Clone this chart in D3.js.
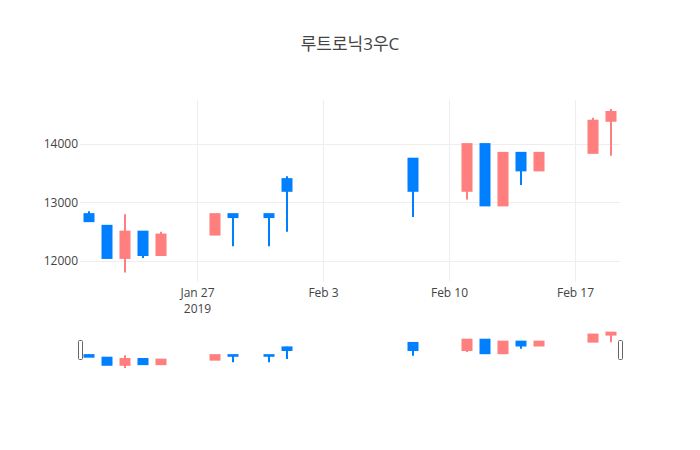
<!DOCTYPE html>
<html>
<head>
<meta charset="utf-8">
<script src="https://cdn.jsdelivr.net/npm/d3@7"></script>
<style>
  body { margin: 0; background: #fff; }
  text { font-family: "Open Sans", "Noto Sans CJK KR", sans-serif; fill: #444; }
</style>
</head>
<body>
<svg width="700" height="450"></svg>
<script>
const dates = ['2019-01-21', '2019-01-22', '2019-01-23', '2019-01-24', '2019-01-25',
  '2019-01-28', '2019-01-29', '2019-01-31', '2019-02-01', '2019-02-08',
  '2019-02-11', '2019-02-12', '2019-02-13', '2019-02-14', '2019-02-15',
  '2019-02-18', '2019-02-19'];
const opens  = [12800, 12600, 12050, 12500, 12100, 12450, 12800, 12800, 13400, 13750, 13200, 14000, 12950, 13850, 13550, 13850, 14400];
const highs  = [12850, 12600, 12800, 12500, 12500, 12800, 12800, 12800, 13450, 13750, 14000, 14000, 13850, 13850, 13850, 14450, 14600];
const lows   = [12680, 12050, 11800, 12050, 12100, 12450, 12250, 12250, 12500, 12750, 13050, 12950, 12950, 13300, 13550, 13850, 13800];
const closes = [12680, 12050, 12500, 12100, 12450, 12800, 12750, 12750, 13200, 13200, 14000, 12950, 13850, 13550, 13850, 14400, 14550];
const yTicks = [12000, 13000, 14000];
const xTicks = ['2019-01-27', '2019-02-03', '2019-02-10', '2019-02-17'];
const title = '루트로닉3우C';

const upColor = '#ff7f7f';
const downColor = '#007fff';

const parse = d3.timeParse('%Y-%m-%d');
const data = dates.map((d, i) => ({
  date: parse(d), open: opens[i], high: highs[i], low: lows[i], close: closes[i]
}));

const svg = d3.select('svg');

const plotLeft = 80, plotRight = 620;
const plotTop = 100, plotBottom = 281.6;
const sliderTop = 330, sliderBottom = 370;

// half a day of padding on both ends, like plotly's candlestick autorange
const halfDay = 12 * 3600 * 1000;
const xScale = d3.scaleTime()
  .domain([new Date(data[0].date - halfDay), new Date(+data[data.length - 1].date + halfDay)])
  .range([plotLeft, plotRight]);

const lo = d3.min(lows), hi = d3.max(highs);
const pad = (hi - lo) * 0.05 / 0.9;
const yScale = d3.scaleLinear()
  .domain([lo - pad, hi + pad])
  .range([plotBottom, plotTop]);
const ySlider = d3.scaleLinear()
  .domain(yScale.domain())
  .range([sliderBottom, sliderTop]);

// title
svg.append('text')
  .attr('x', 350)
  .attr('y', 50)
  .attr('text-anchor', 'middle')
  .style('font-size', '17px')
  .text(title);

// grid
const grid = svg.append('g');
grid.selectAll('.hgrid')
  .data(yTicks)
  .enter().append('line')
  .attr('x1', plotLeft).attr('x2', plotRight)
  .attr('y1', d => Math.round(yScale(d)) + 0.5)
  .attr('y2', d => Math.round(yScale(d)) + 0.5)
  .attr('stroke', '#eee');
grid.selectAll('.vgrid')
  .data(xTicks.map(parse))
  .enter().append('line')
  .attr('y1', plotTop).attr('y2', plotBottom)
  .attr('x1', d => Math.round(xScale(d)) + 0.5)
  .attr('x2', d => Math.round(xScale(d)) + 0.5)
  .attr('stroke', '#eee');

// y axis labels
const yAxis = svg.append('g')
  .attr('transform', `translate(${plotLeft - 2},0)`)
  .call(d3.axisLeft(yScale).tickValues(yTicks).tickSize(0).tickPadding(0).tickFormat(d3.format('d')));
yAxis.select('.domain').remove();
yAxis.selectAll('text').style('font-size', '12px').style('fill', '#444');

// x axis labels
const fmt = d3.timeFormat('%b %-d');
const xAxis = svg.append('g')
  .attr('transform', `translate(0,${plotBottom})`)
  .call(d3.axisBottom(xScale).tickValues(xTicks.map(parse)).tickSize(0).tickPadding(7).tickFormat(fmt));
xAxis.select('.domain').remove();
xAxis.selectAll('text').style('font-size', '12px').style('fill', '#444');
xAxis.select('.tick text')
  .append('tspan')
  .attr('x', 0)
  .attr('dy', '1.33em')
  .text('2019');

const boxW = xScale(new Date(+data[0].date + halfDay)) - xScale(data[0].date);

function drawCandles(g, ys) {
  const c = g.selectAll('.candle')
    .data(data)
    .enter().append('g')
    .attr('class', 'candle');
  c.append('line')
    .attr('x1', d => xScale(d.date))
    .attr('x2', d => xScale(d.date))
    .attr('y1', d => ys(d.high))
    .attr('y2', d => ys(d.low))
    .attr('stroke', d => d.close > d.open ? upColor : downColor)
    .attr('stroke-width', 2);
  c.append('rect')
    .attr('x', d => xScale(d.date) - boxW / 2)
    .attr('width', boxW)
    .attr('y', d => ys(Math.max(d.open, d.close)))
    .attr('height', d => Math.max(0.5, ys(Math.min(d.open, d.close)) - ys(Math.max(d.open, d.close))))
    .attr('fill', d => d.close > d.open ? upColor : downColor)
    .attr('stroke', d => d.close > d.open ? upColor : downColor)
    .attr('stroke-width', 2);
}

drawCandles(svg.append('g'), yScale);

// range slider
const slider = svg.append('g');
slider.append('rect')
  .attr('x', plotLeft).attr('y', sliderTop)
  .attr('width', plotRight - plotLeft).attr('height', sliderBottom - sliderTop)
  .attr('fill', '#fff');
drawCandles(slider, ySlider);
[plotLeft - 2, plotRight - 2].forEach(x => {
  slider.append('rect')
    .attr('x', x + 0.5)
    .attr('y', sliderTop + 10.5)
    .attr('width', 4)
    .attr('height', 19)
    .attr('rx', 1)
    .attr('fill', '#fff')
    .attr('stroke', '#666');
});
</script>
</body>
</html>
